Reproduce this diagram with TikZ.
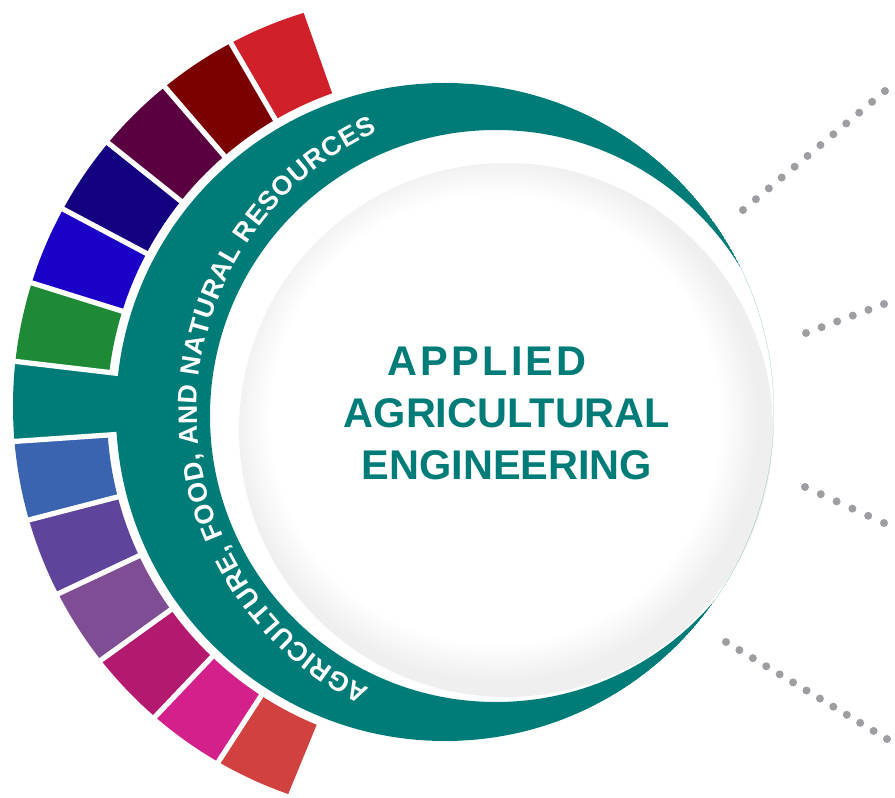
\documentclass[tikz,border=0pt]{standalone}
\usepackage{fontspec}
\setmainfont{Liberation Sans}
\usepackage{tikz}
\usetikzlibrary{calc, decorations.text}

\definecolor{ringteal}{RGB}{0,124,120}
\definecolor{ringgrey}{RGB}{239,239,239}
\definecolor{dotgrey}{RGB}{157,157,162}
\definecolor{wRed}{RGB}{208,32,42}
\definecolor{wMaroon}{RGB}{122,0,2}
\definecolor{wPlum}{RGB}{90,0,64}
\definecolor{wNavy}{RGB}{18,0,128}
\definecolor{wBlue}{RGB}{27,0,200}
\definecolor{wGreen}{RGB}{30,138,53}
\definecolor{wSteel}{RGB}{58,99,176}
\definecolor{wPurple}{RGB}{94,68,154}
\definecolor{wMauve}{RGB}{126,77,148}
\definecolor{wBerry}{RGB}{179,25,110}
\definecolor{wPink}{RGB}{212,32,138}
\definecolor{wCoral}{RGB}{208,65,63}

\pgfdeclareradialshading{discshade}{\pgfpoint{-1.8bp}{1.8bp}}{color(0bp)=(white); color(21bp)=(white); color(24.5bp)=(ringgrey); color(25bp)=(ringgrey); color(50bp)=(ringgrey)}

\begin{document}
\begin{tikzpicture}[x=0.25mm, y=0.25mm,
  sep/.style={white, line width=1.3mm},
  title/.style={align=center, text=ringteal, font=\fontsize{29.5pt}{37pt}\selectfont\bfseries}]
  \useasboundingbox (-445,-386) rectangle (450,412);
  \foreach \col/\rin [count=\k from 0] in {wRed/338, wMaroon/338, wPlum/338, wNavy/338, wBlue/338, wGreen/338, ringteal/320, wSteel/338, wPurple/338, wMauve/338, wBerry/338, wPink/338, wCoral/338} {
    \pgfmathsetmacro\ta{109.5+10.63*\k}
    \pgfmathsetmacro\tb{\ta+10.63}
    \begin{scope}
      \clip (0,0) -- (\ta:600) -- (\tb:600) -- cycle;
      \fill[\col, even odd rule] (-21,6) circle (411) (0,0) circle (\rin);
    \end{scope}
  }
  \foreach \k in {1,...,12} \draw[sep] ({109.5+10.63*\k}:329) -- ({109.5+10.63*\k}:470);
  \shade[shading=discshade] (61,-18) circle (267);
  \begin{scope}
    \clip (0,0) circle (329);
    \fill[ringteal, even odd rule] (0,0) circle (329) (51,-4) circle (286);
  \end{scope}
  \path[decorate, decoration={text along path, text align={fit to path},
      text={|\fontsize{19pt}{19pt}\selectfont\bfseries\color{white}|AGRICU{LT}URE, FOOD, AND NATURAL RESOURCES}}]
    (60,0) ++(244:308) arc (244:114.5:308);
  \node[title] (title) at (62,-1) {{\addfontfeature{LetterSpace=8}APPLIED}\kern 10mm\\AGRICULTURAL\\ENGINEERING};
  \coordinate (d1a) at (298,202); \coordinate (d1b) at (440,321);
  \coordinate (d2a) at (361,79);  \coordinate (d2b) at (439,108);
  \coordinate (d3a) at (360,-75); \coordinate (d3b) at (439,-111);
  \coordinate (d4a) at (281,-230); \coordinate (d4b) at (442,-327);
  \foreach \a/\b/\n in {d1a/d1b/11, d2a/d2b/5, d3a/d3b/5, d4a/d4b/12}
    \foreach \i in {0,...,\n}
      \fill[dotgrey] ($(\a)!\i/\n!(\b)$) circle (4);
\end{tikzpicture}
\end{document}
